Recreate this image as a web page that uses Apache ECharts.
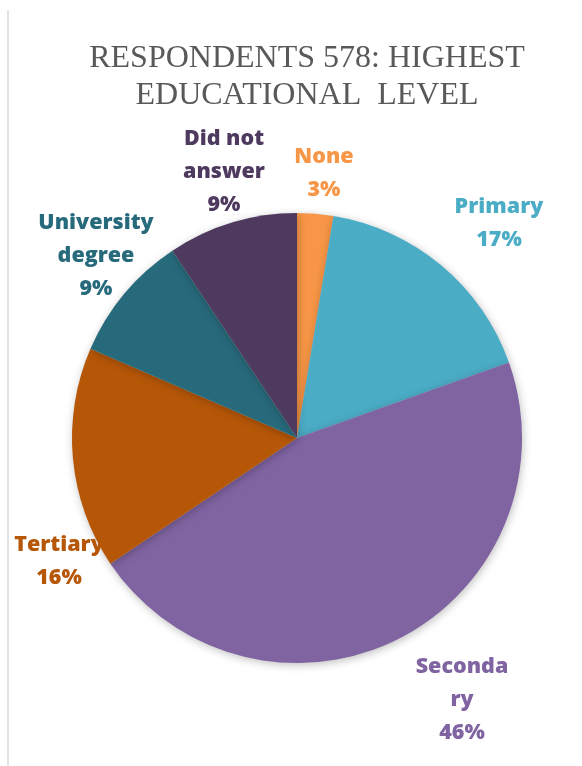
<!DOCTYPE html>
<html>
<head>
<meta charset="utf-8">
<script src="https://cdn.jsdelivr.net/npm/echarts@6/dist/echarts.min.js"></script>
<style>
  html, body { margin: 0; padding: 0; background: #fff; }
  #main { width: 582px; height: 766px; }
</style>
</head>
<body>
<div id="main"></div>
<script>
const categories = ["None", "Primary", "Secondary", "Tertiary", "University degree", "Did not answer"];
const labelTexts = ["None", "Primary", "Seconda\nry", "Tertiary", "University\ndegree", "Did not\nanswer"];
// respondent counts (total 578)
const counts = [15, 98, 266, 92, 53, 54];
const sliceColors = ["#F79646", "#4BACC6", "#8064A2", "#B65708", "#276A7C", "#4F3A5F"];
const labelColors = ["#F79646", "#4BACC6", "#8064A2", "#B65708", "#276A7C", "#4F3A5F"];

const total = counts.reduce((a, b) => a + b, 0);
// label centres (layout only)
const labelPos = [[324, 173], [499, 223], [462, 700], [59, 561], [96, 256], [224, 172]];

const chart = echarts.init(document.getElementById("main"));

chart.setOption({
  backgroundColor: "#ffffff",
  animation: false,
  title: {
    text: "RESPONDENTS 578: HIGHEST\nEDUCATIONAL  LEVEL",
    left: 302,
    textAlign: "center",
    top: 35,
    textStyle: {
      fontFamily: "Liberation Serif",
      fontWeight: "normal",
      fontSize: 32,
      lineHeight: 37,
      color: "#595959",
    },
  },
  graphic: [
    {
      type: "rect",
      shape: { x: 7, y: 10, width: 2, height: 756 },
      style: { fill: "#e3e3e3" },
    },
  ],
  series: [
    {
      type: "pie",
      center: [297, 438],
      radius: 225,
      startAngle: 90,
      clockwise: true,
      itemStyle: {
        shadowBlur: 8,
        shadowColor: "rgba(0,0,0,0.25)",
        shadowOffsetX: 1,
        shadowOffsetY: 2,
      },
      label: {
        show: true,
        position: "outside",
        fontFamily: "Open Sans",
        fontWeight: 800,
        fontSize: 21.5,
        lineHeight: 33,
        align: "center",
        overflow: "none",
        formatter: (p) =>
          labelTexts[p.dataIndex] + "\n" + Math.round((p.value / total) * 100) + "%",
      },
      labelLine: { show: false },
      labelLayout: (p) => ({
        x: labelPos[p.dataIndex][0],
        y: labelPos[p.dataIndex][1],
        align: "center",
        verticalAlign: "middle",
      }),
      emphasis: { disabled: true },
      data: categories.map((name, i) => ({
        name,
        value: counts[i],
        itemStyle: { color: sliceColors[i] },
        label: { color: labelColors[i] },
      })),
    },
  ],
});
</script>
</body>
</html>
